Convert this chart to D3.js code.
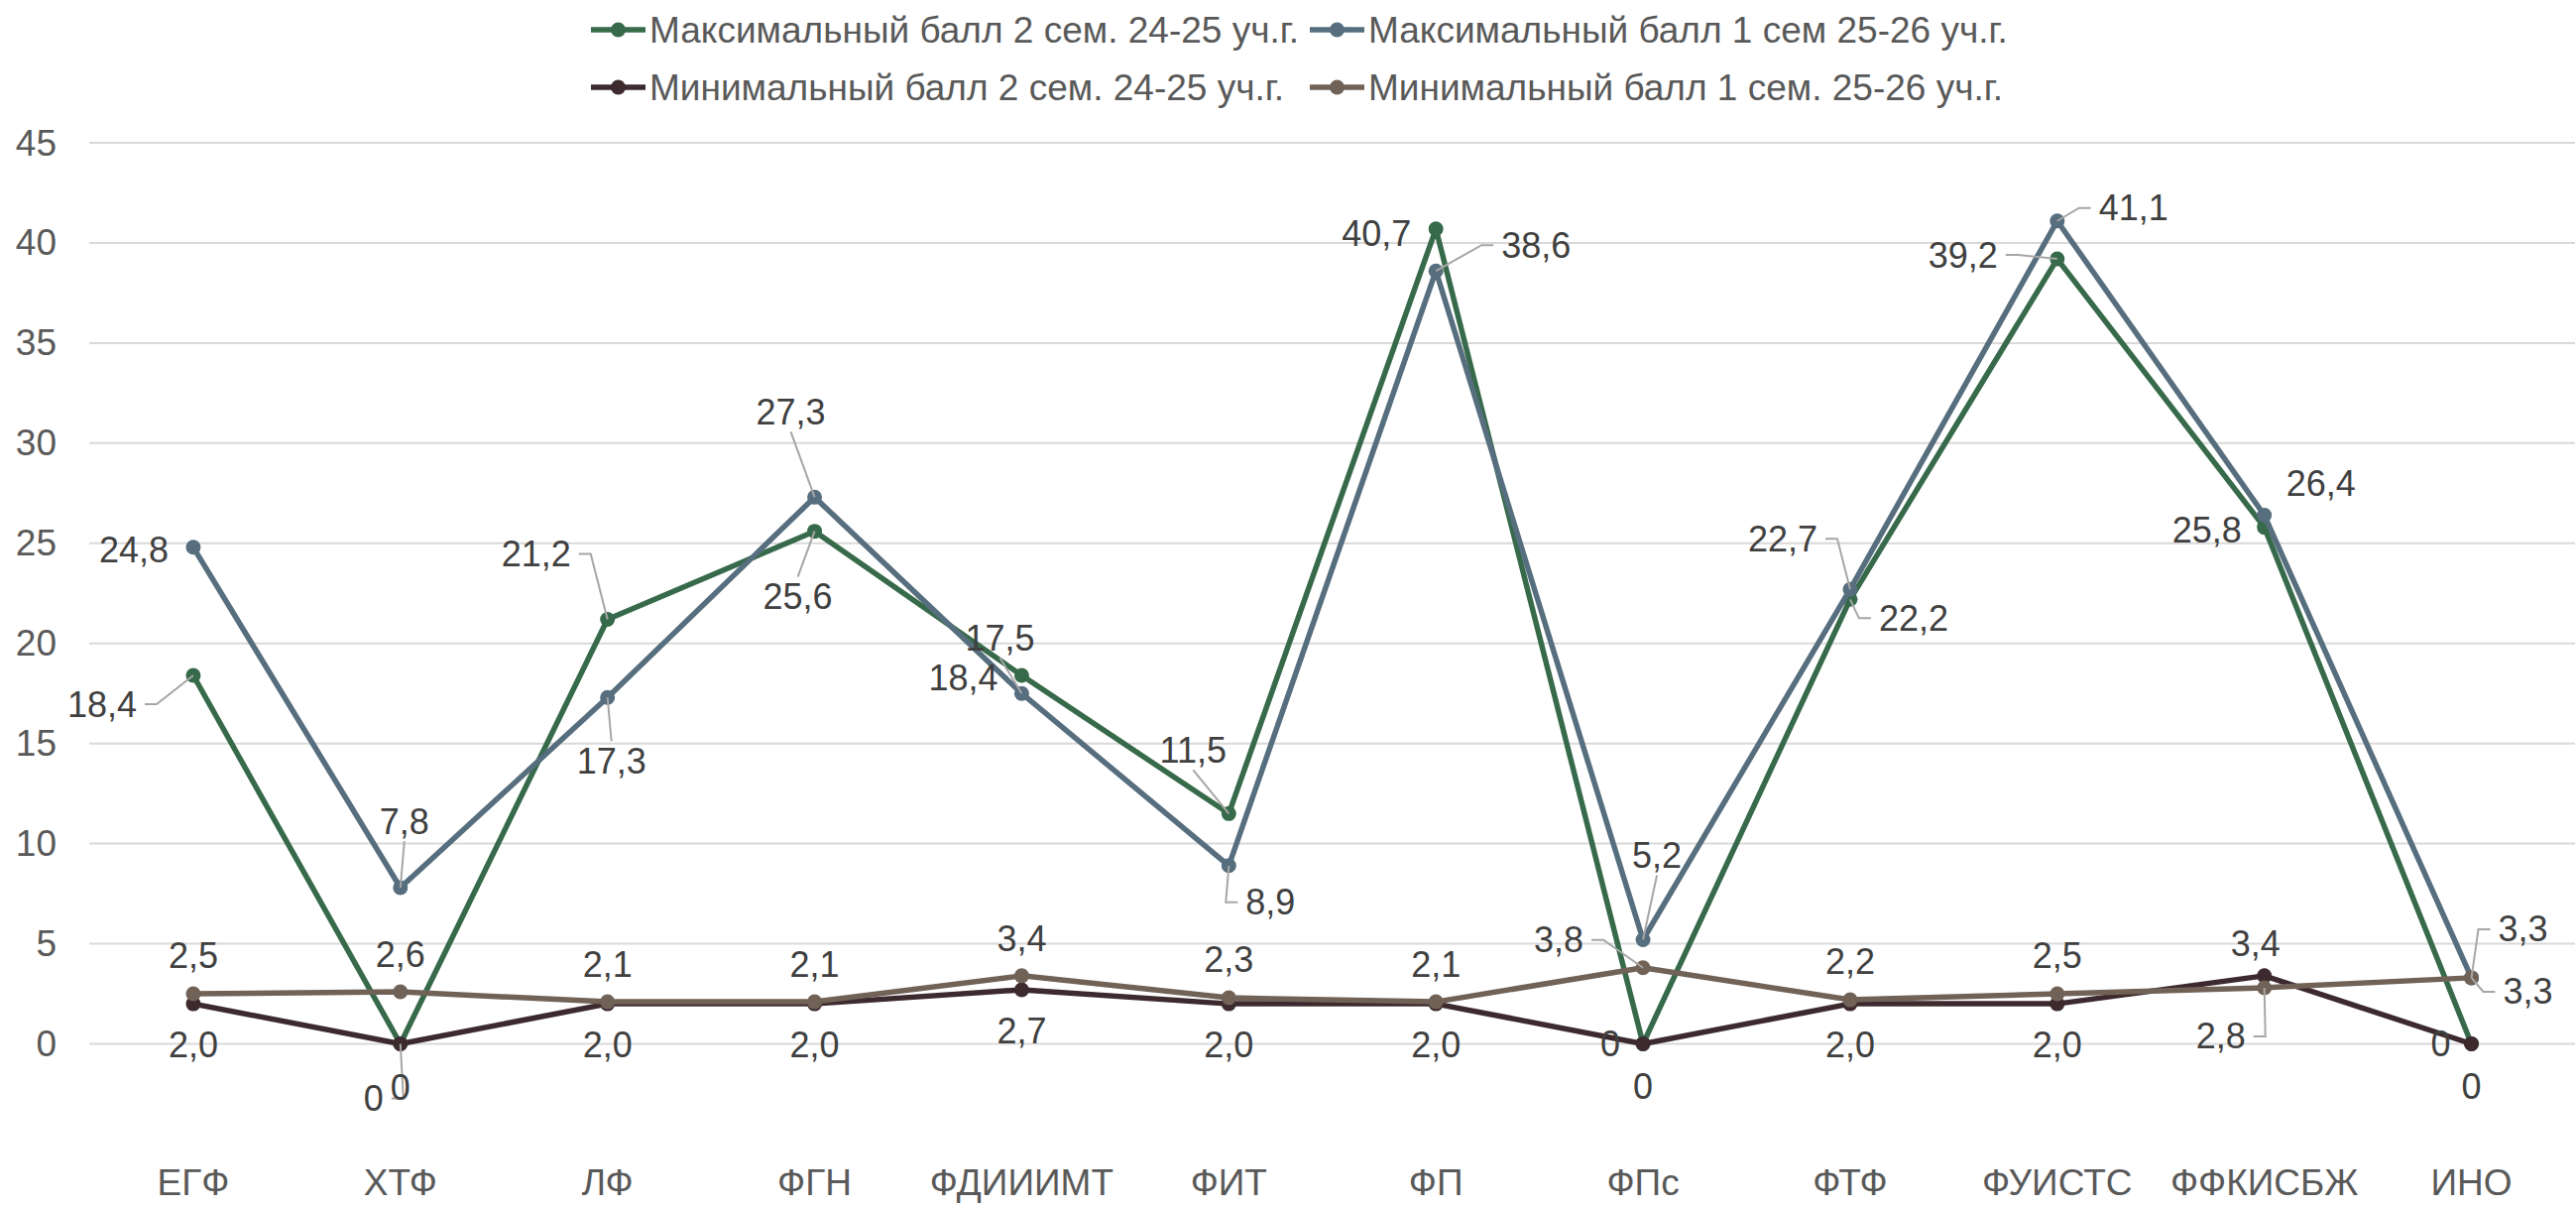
<!DOCTYPE html>
<html>
<head>
<meta charset="utf-8">
<script src="https://cdn.jsdelivr.net/npm/d3@7"></script>
<style>
  body { margin: 0; background: #fff; }
  svg { display: block; font-family: "Liberation Sans", Arial, sans-serif; }
</style>
</head>
<body>
<svg id="chart" width="2598" height="1217"></svg>
<script>
// categories (faculties)
var categories = ["ЕГФ", "ХТФ", "ЛФ", "ФГН", "ФДИИИМТ", "ФИТ", "ФП", "ФПс", "ФТФ", "ФУИСТС", "ФФКИСБЖ", "ИНО"]

// series values
var max2sem2425 = [18.4, 0, 21.2, 25.6, 18.4, 11.5, 40.7, 0, 22.2, 39.2, 25.8, 0]
var max1sem2526 = [24.8, 7.8, 17.3, 27.3, 17.5, 8.9, 38.6, 5.2, 22.7, 41.1, 26.4, 3.3]
var min2sem2425 = [2.0, 0, 2.0, 2.0, 2.7, 2.0, 2.0, 0, 2.0, 2.0, 3.4, 0]
var min1sem2526 = [2.5, 2.6, 2.1, 2.1, 3.4, 2.3, 2.1, 3.8, 2.2, 2.5, 2.8, 3.3]

var seriesNames = [
  "Максимальный балл 2 сем. 24-25 уч.г.",
  "Максимальный балл 1 сем 25-26 уч.г.",
  "Минимальный балл 2 сем. 24-25 уч.г.",
  "Минимальный балл 1 сем. 25-26 уч.г."
]
var yTicks = [0, 5, 10, 15, 20, 25, 30, 35, 40, 45]

// layout only: where each data label sits relative to its point [dx, dy, leader?]
var labelsMax2 = [[-92, 29, 1], [-27, 55, 1], [-72, -66, 1], [-17, 66, 1], [-59, 2, 0], [-36, -64, 1],
                  [-60, 5, 0], [-33, 0, 0], [64, 19, 1], [-95, -4, 1], [-58, 3, 0], [-31, 0, 0]]
var labelsMax1 = [[-60, 3, 0], [4, -67, 1], [4, 64, 1], [-24, -86, 1], [-22, -56, 1], [42, 37, 1],
                  [101, -26, 1], [14, -85, 1], [-68, -51, 1], [77, -13, 1], [57, -32, 0], [52, -49, 1]]
var labelsMin2 = [[0, 41, 0], [0, 44, 0], [0, 41, 0], [0, 41, 0], [0, 42, 0], [0, 41, 0],
                  [0, 41, 0], [0, 43, 0], [0, 41, 0], [0, 41, 0], [-9, -32, 0], [0, 43, 0]]
var labelsMin1 = [[0, -39, 0], [0, -38, 0], [0, -38, 0], [0, -38, 0], [0, -37, 0], [0, -39, 0],
                  [0, -38, 0], [-85, -28, 1], [0, -39, 0], [0, -39, 0], [-44, 49, 1], [57, 14, 1]]

var colors = ["#376a4a", "#566e7e", "#3c2a2e", "#706257"]

var series = [
  { name: seriesNames[0], values: max2sem2425, labels: labelsMax2, color: colors[0] },
  { name: seriesNames[1], values: max1sem2526, labels: labelsMax1, color: colors[1] },
  { name: seriesNames[2], values: min2sem2425, labels: labelsMin2, color: colors[2] },
  { name: seriesNames[3], values: min1sem2526, labels: labelsMin1, color: colors[3] }
]

var svg = d3.select("#chart")

var x = d3.scaleBand().domain(categories).range([90.5, 2597])
var y = d3.scaleLinear().domain([0, 45]).range([1052.5, 144])
function cx(c) { return x(c) + x.bandwidth() / 2 }

function fmt(v) {
  return v === 0 ? "0" : v.toFixed(1).replace(".", ",")
}

// gridlines
svg.append("g").selectAll("line")
  .data(yTicks)
  .join("line")
  .attr("x1", 90).attr("x2", 2597)
  .attr("y1", function(d) { return y(d) }).attr("y2", function(d) { return y(d) })
  .style("stroke", "#d9d9d9").style("stroke-width", 2)

// y axis labels
svg.append("g").selectAll("text")
  .data(yTicks)
  .join("text")
  .attr("x", 57)
  .attr("y", function(d) { return y(d) })
  .attr("text-anchor", "end")
  .attr("dominant-baseline", "central")
  .style("font-size", "37px")
  .style("fill", "#595959")
  .text(function(d) { return d })

// x axis labels
svg.append("g").selectAll("text")
  .data(categories)
  .join("text")
  .attr("x", function(d) { return cx(d) })
  .attr("y", 1192)
  .attr("text-anchor", "middle")
  .attr("dominant-baseline", "central")
  .style("font-size", "37px")
  .style("fill", "#595959")
  .text(function(d) { return d })

var line = d3.line()
  .x(function(d, i) { return cx(categories[i]) })
  .y(function(d) { return y(d) })

// lines + markers, series in order
series.forEach(function(s) {
  var g = svg.append("g")
  g.append("path")
    .attr("d", line(s.values))
    .style("fill", "none")
    .style("stroke", s.color)
    .style("stroke-width", 5.5)
    .style("stroke-linejoin", "round")
  g.selectAll("circle")
    .data(s.values)
    .join("circle")
    .attr("cx", function(d, i) { return cx(categories[i]) })
    .attr("cy", function(d) { return y(d) })
    .attr("r", 7.5)
    .style("fill", s.color)
})

// data labels with leader lines
var labelLayer = svg.append("g")
series.forEach(function(s) {
  s.values.forEach(function(v, i) {
    var px = cx(categories[i]), py = y(v)
    var p = s.labels[i]
    var lx = px + p[0], ly = py + p[1]
    var t = labelLayer.append("text")
      .attr("x", lx).attr("y", ly)
      .attr("text-anchor", "middle")
      .attr("dominant-baseline", "central")
      .style("font-size", "36px")
      .style("fill", "#404040")
      .text(fmt(v))
    if (p[2]) {
      var w = t.node().getComputedTextLength()
      var pts
      if (Math.abs(p[0]) > w / 2 + 4) {
        // label off to the side: horizontal tail then to the point
        var side = p[0] > 0 ? -1 : 1
        var ex = lx + side * (w / 2 + 8)
        pts = [[ex, ly], [ex + side * 12, ly], [px, py]]
      } else {
        var vy = p[1] > 0 ? ly - 20 : ly + 20
        pts = [[lx, vy], [px, py]]
      }
      svg.append("path")
        .attr("d", d3.line()(pts))
        .style("fill", "none")
        .style("stroke", "#a6a6a6")
        .style("stroke-width", 2)
    }
  })
})
labelLayer.raise()

// legend
var legendPos = [[596, 30], [1321, 30], [596, 88], [1321, 88]]
var legend = svg.append("g")
series.forEach(function(s, i) {
  var lp = legendPos[i]
  var g = legend.append("g").attr("transform", "translate(" + lp[0] + "," + lp[1] + ")")
  g.append("line").attr("x1", 0).attr("x2", 55).attr("y1", 0).attr("y2", 0)
    .style("stroke", s.color).style("stroke-width", 5.5)
  g.append("circle").attr("cx", 27.5).attr("cy", 0).attr("r", 7.5).style("fill", s.color)
  g.append("text")
    .attr("x", 59).attr("y", 0)
    .attr("dominant-baseline", "central")
    .style("font-size", "37px")
    .style("fill", "#595959")
    .text(s.name)
})
</script>
</body>
</html>
